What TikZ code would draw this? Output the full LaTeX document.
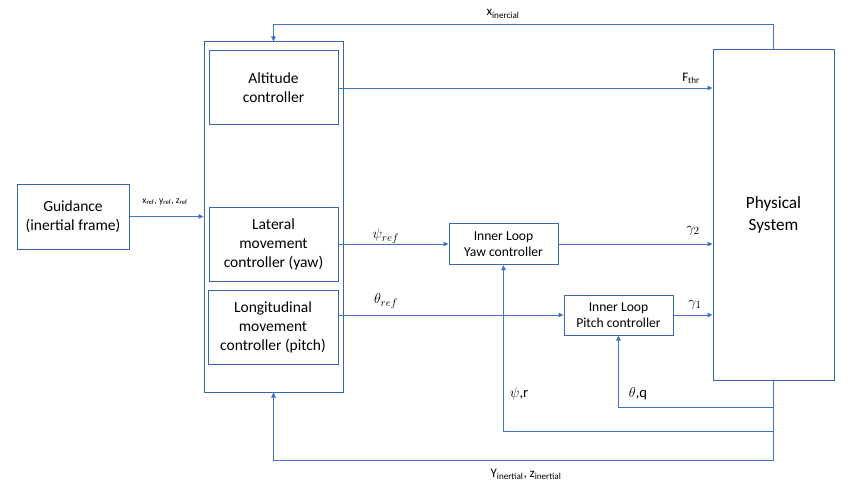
\documentclass[tikz,border=0pt]{standalone}
\usepackage{fontspec}
\setmainfont{Carlito}
\usetikzlibrary{arrows.meta}
\definecolor{lineblue}{HTML}{4472C4}
\definecolor{boxblue}{HTML}{3B64AD}
\begin{document}
\begin{tikzpicture}[x=1pt,y=-1pt,
  blk/.style={draw=boxblue,line width=1pt,rectangle,inner sep=0pt,align=center,font=\fontsize{15.5}{19}\selectfont},
  conn/.style={draw=lineblue,line width=0.9pt},
  arr/.style={conn,-{Triangle[length=5pt,width=4.5pt]}},
  lbl/.style={inner sep=0pt,font=\fontsize{13}{15}\selectfont},
  mlbl/.style={inner sep=0pt,font=\fontsize{15}{17}\selectfont},
  slbl/.style={inner sep=0pt,font=\fontsize{9.5}{11}\selectfont}]
\useasboundingbox (0,0) rectangle (866,489);
% blocks
\node[blk,minimum width=112pt,minimum height=65pt] (guid) at (73,216.5) {Guidance\\(inertial frame)};
\node[blk,minimum width=139pt,minimum height=350pt] (outer) at (273.5,217) {};
\node[blk,minimum width=129pt,minimum height=74pt] (alt) at (273.5,88) {Altitude\\controller};
\node[blk,minimum width=129pt,minimum height=74pt] (lat) at (273.5,244) {Lateral\\movement\\controller (yaw)};
\node[blk,minimum width=130pt,minimum height=74pt] (lon) at (273,327) {Longitudinal\\movement\\controller (pitch)};
\node[blk,minimum width=109pt,minimum height=41pt,font=\fontsize{13.6}{16}\selectfont] (yaw) at (503.5,244) {Inner Loop\\Yaw controller};
\node[blk,minimum width=109pt,minimum height=40pt,font=\fontsize{13.6}{16}\selectfont] (pitch) at (618.5,315) {Inner Loop\\Pitch controller};
\node[blk,minimum width=121pt,minimum height=330pt,font=\fontsize{17.2}{22}\selectfont] (phys) at (773.5,215) {Physical\\System};
% coordinates
\coordinate (topc) at (773.5,24);
\coordinate (fbq) at (773.5,407);
\coordinate (fbr) at (773.5,431);
\coordinate (botc) at (773.5,460);
% connectors
\draw[arr] (guid.east) -- (guid.east -| outer.west);
\draw[arr] (phys.north) -- (topc) -| (outer.north);
\draw[arr] (alt.east) -- (alt.east -| phys.west);
\draw[arr] (lat.east) -- (yaw.west);
\draw[arr] (yaw.east) -- (yaw.east -| phys.west);
\draw[arr] (pitch.west -| lon.east) -- (pitch.west);
\draw[arr] (pitch.east) -- (pitch.east -| phys.west);
\draw[conn] (phys.south) -- (botc);
\draw[arr] (fbq) -| (pitch.south);
\draw[arr] (fbr) -| (yaw.south);
\draw[arr] (botc) -| (outer.south);
% labels
\node[slbl] (lref) at (165,202) {x\textsubscript{ref}, y\textsubscript{ref}, z\textsubscript{ref}};
\node[lbl] (lxin) at (503,14) {x\textsubscript{inercial}};
\node[lbl] (lf) at (691,78) {F\textsubscript{thr}};
\node[mlbl] (lpsi) at (386,236) {$\psi_{ref}$};
\node[mlbl] (ltheta) at (386,301) {$\theta_{ref}$};
\node[mlbl] (lg2) at (693,231) {$\gamma_2$};
\node[mlbl] (lg1) at (695,305) {$\gamma_1$};
\node[lbl,font=\fontsize{14.5}{16}\selectfont] (lpr) at (519,394) {$\psi$,r};
\node[lbl,font=\fontsize{14.5}{16}\selectfont] (ltq) at (638,394) {$\theta$,q};
\node[lbl] (lyz) at (526,474) {Y\textsubscript{inertial}, z\textsubscript{inertial}};
\end{tikzpicture}
\end{document}
